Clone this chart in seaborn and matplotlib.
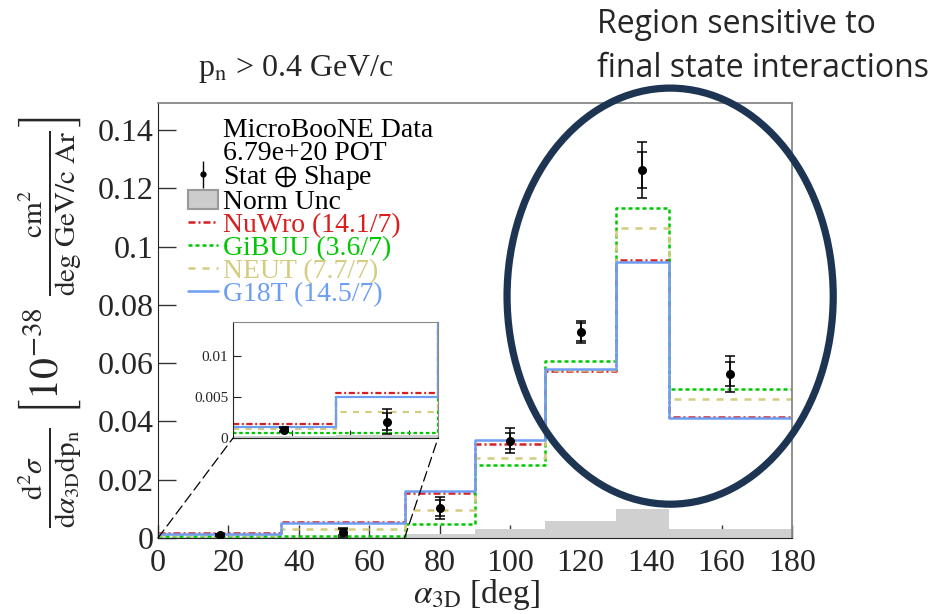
import numpy as np
import pandas as pd
import matplotlib
matplotlib.use('Agg')
import matplotlib.pyplot as plt
import seaborn as sns
from matplotlib.lines import Line2D
from matplotlib.patches import Patch, Ellipse, ConnectionPatch
from matplotlib.ticker import FuncFormatter

# alpha_3D binning (deg)
edges = [0, 35, 70, 90, 110, 130, 145, 180]
centres = [17.5, 52.5, 80, 100, 120, 137.5, 162.5]

# MicroBooNE data, 10^-38 cm2 / deg GeV/c Ar
data_xsec = [0.0010, 0.0020, 0.0103, 0.0333, 0.0707, 0.1263, 0.0563]
data_tot_err = [0.0003, 0.0015, 0.0038, 0.0043, 0.0039, 0.0096, 0.0062]
data_stat_err = [0.0002, 0.0010, 0.0026, 0.0026, 0.0030, 0.0062, 0.0041]
norm_unc = [0.0002, 0.0004, 0.0014, 0.0031, 0.0058, 0.0099, 0.0031]

# generator predictions
nuwro = [0.0017, 0.0055, 0.0154, 0.0323, 0.0573, 0.0955, 0.0415]
gibuu = [0.0006, 0.0006, 0.0048, 0.0250, 0.0607, 0.1134, 0.0511]
neut = [0.0011, 0.0032, 0.0096, 0.0275, 0.0578, 0.1064, 0.0477]
g18t = [0.0013, 0.0050, 0.0161, 0.0336, 0.0580, 0.0947, 0.0412]
model_names = ['NuWro (14.1/7)', 'GiBUU (3.6/7)', 'NEUT (7.7/7)', 'G18T (14.5/7)']

models = [nuwro, gibuu, neut, g18t]
colors = ['#d81e1e', '#00c800', '#d4cc80', '#6e9ef2']
styles = [(0, (2.8, 1.2, 0.8, 1.2)), (0, (1.6, 1.2)), (0, (2.8, 2.8)), '-']

sns.set_style('ticks')
plt.rcParams['font.family'] = ['Liberation Serif', 'DejaVu Serif']
plt.rcParams['mathtext.fontset'] = 'stix'

fig = plt.figure(figsize=(9.5, 6.14), dpi=100)
ax = fig.add_axes([0.1663, 0.1238, 0.6674, 0.7085])


def draw_hists(a, lw):
    # norm unc band
    sns.histplot(x=centres, weights=norm_unc, bins=edges, element='step', fill=True,
                 color='#d0d0d0', alpha=1, linewidth=0, ax=a)
    for vals, col, ls in zip(models, colors, styles):
        sns.histplot(x=centres, weights=vals, bins=edges, element='step', fill=False,
                     color=col, linestyle=ls, linewidth=lw, ax=a)
    a.errorbar(centres, data_xsec, yerr=data_stat_err, fmt='none', ecolor='k',
               elinewidth=1.1, capsize=3.6, capthick=1.1, zorder=5)
    cont = a.errorbar(centres, data_xsec, yerr=data_tot_err, fmt='o', color='k',
                      ms=5.5, elinewidth=1.1, capsize=3.6, capthick=1.1, zorder=6)
    a.set_xlabel('')
    a.set_ylabel('')
    return cont


data_cont = draw_hists(ax, 1.8)
ax.set_xlim(0, 180)
ax.set_ylim(0, 0.1493)
ax.set_xticks(range(0, 181, 20))
ax.set_yticks([0, 0.02, 0.04, 0.06, 0.08, 0.1, 0.12, 0.14])
ax.yaxis.set_major_formatter(FuncFormatter(lambda v, p: f'{v:g}'))
ax.tick_params(axis='both', direction='in', labelsize=23, width=1, color='#333333')
ax.tick_params(axis='y', length=13, pad=3)
ax.tick_params(axis='x', length=9.5, pad=8)
for s in ['left', 'bottom']:
    ax.spines[s].set_color('#222222')
for s in ['top', 'right']:
    ax.spines[s].set_color('#888888')
    ax.spines[s].set_linewidth(1.3)

# legend
leg_err = ax.errorbar([], [], yerr=[], fmt='o', color='k', ms=3.5, elinewidth=1, capsize=0)
handles = [Line2D([], [], linestyle='none'), Line2D([], [], linestyle='none'), leg_err,
           Patch(facecolor='#cccccc', edgecolor='#999999', linewidth=1.5)]
handles += [Line2D([], [], color=c, linestyle=s, linewidth=1.8) for c, s in zip(colors, styles)]
labels = ['MicroBooNE Data', '6.79e+20 POT', r'Stat $\oplus$ Shape', 'Norm Unc'] + model_names
leg = ax.legend(handles, labels, loc='upper left', bbox_to_anchor=(0.047, 0.967), frameon=False,
                fontsize=20, labelspacing=-0.09, handlelength=1.1, handletextpad=0.15,
                borderpad=0, borderaxespad=0)
for t, c in zip(leg.get_texts(), ['k'] * 4 + colors):
    t.set_color(c)

# inset zoom on the first two bins
axin = fig.add_axes([0.2453, 0.2866, 0.2158, 0.189])
draw_hists(axin, 1.6)
axin.set_xlim(0, 70)
axin.set_ylim(0, 0.0141)
axin.set_xticks([20, 40, 60])
axin.set_xticklabels([])
axin.set_yticks([0, 0.005, 0.01])
axin.yaxis.set_major_formatter(FuncFormatter(lambda v, p: f'{v:g}'))
axin.tick_params(axis='both', direction='in', labelsize=11, length=6, color='#222222')
for s in ['top', 'right']:
    axin.spines[s].set_color('#888888')
for xa, xb in [(0, 0), (70, 1)]:
    con = ConnectionPatch(xyA=(xa, 0), coordsA=ax.transData, xyB=(xb, 0), coordsB=axin.transAxes,
                          linestyle=(0, (8, 4)), color='k', linewidth=0.9)
    fig.add_artist(con)

# axis titles
fig.text(476 / 950, 1 - 603 / 614, r'$\alpha_{\mathrm{3D}}$ [deg]', ha='center', va='baseline', fontsize=24)
fig.text(50 / 950, 1 - 322 / 614,
         r'$\frac{\mathrm{d}^2\sigma}{\mathrm{d}\alpha_{\mathrm{3D}}\mathrm{dp}_{\mathrm{n}}}\ '
         r'\left[10^{-38}\ \frac{\mathrm{cm}^2}{\mathrm{deg\ GeV/c\ Ar}}\right]$',
         rotation=90, ha='center', va='center', fontsize=30)
fig.text(296 / 950, 1 - 76 / 614, r'p$_{\mathrm{n}}$ > 0.4 GeV/c', ha='center', va='baseline', fontsize=23)

# annotation
ell = Ellipse((145.4, 0.083), 92.6, 0.1428, fill=False, edgecolor='#1d3553', linewidth=5.2,
              clip_on=False, zorder=20)
ax.add_patch(ell)
fig.text(597 / 950, 1 - 33 / 614, 'Region sensitive to', family='Open Sans', fontsize=23, va='baseline')
fig.text(597 / 950, 1 - 77 / 614, 'final state interactions', family='Open Sans', fontsize=23, va='baseline')

fig.savefig('out.png', dpi=100)
